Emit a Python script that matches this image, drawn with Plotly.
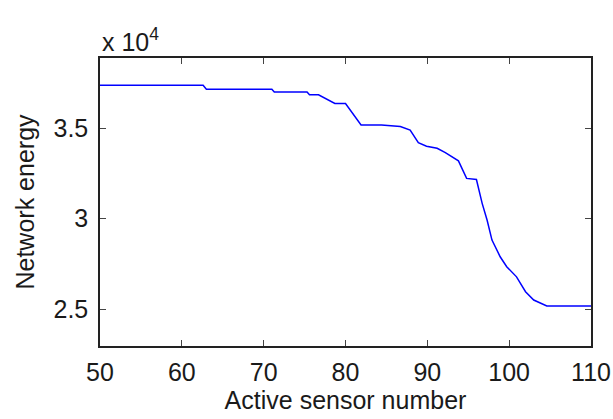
import plotly.graph_objects as go

x_vals = [50, 62.6, 63.0, 71.0, 71.3, 75.3, 75.6, 76.7, 78.7, 80.0, 81.9, 84.4, 86.7, 87.9, 88.9, 89.9, 91.2, 92.2,
          93.8, 94.8, 96.0, 96.7, 97.3, 97.9, 98.9, 99.7, 100.9, 102.0, 103.0, 104.6, 110]
y_vals = [37370, 37370, 37150, 37150, 36990, 36990, 36840, 36840, 36360, 36360, 35170, 35170, 35080, 34890, 34190,
          34000, 33880, 33640, 33190, 32220, 32160, 30840, 29920, 28810, 27890, 27340, 26780, 25960, 25500, 25170, 25170]

x_ticks = [50, 60, 70, 80, 90, 100, 110]
y_ticks = [25000, 30000, 35000]
y_tick_text = ["2.5", "3", "3.5"]

fig = go.Figure()
fig.add_trace(go.Scatter(x=x_vals, y=y_vals, mode="lines",
                         line=dict(color="#0000ff", width=1.5), showlegend=False))

font = dict(family="Liberation Sans, Arial, sans-serif", size=25, color="#1a1a1a")

fig.update_layout(
    width=613, height=419,
    margin=dict(l=100, r=22, t=58, b=73),
    paper_bgcolor="white", plot_bgcolor="white",
    font=font,
    xaxis=dict(range=[50, 110], tickvals=x_ticks, ticks="inside", ticklen=6, automargin=False,
               showline=True, linecolor="#222222", linewidth=1.5, mirror="ticks",
               showgrid=False, zeroline=False, tickfont=font, ticklabelstandoff=3,
               title=dict(text="Active sensor number", font=font, standoff=3)),
    yaxis=dict(range=[22960, 38870], tickvals=y_ticks, ticktext=y_tick_text, ticks="inside", ticklen=6,
               automargin=False,
               showline=True, linecolor="#222222", linewidth=1.5, mirror="ticks",
               showgrid=False, zeroline=False, tickfont=font, ticklabelstandoff=5,
               title=dict(text="Network energy", font=font, standoff=12)),
    annotations=[dict(text="x 10<sup>4</sup>", xref="paper", yref="paper", x=0, y=1,
                      xanchor="left", yanchor="bottom", showarrow=False, font=font, yshift=0)],
)

fig.write_html("out.html")
